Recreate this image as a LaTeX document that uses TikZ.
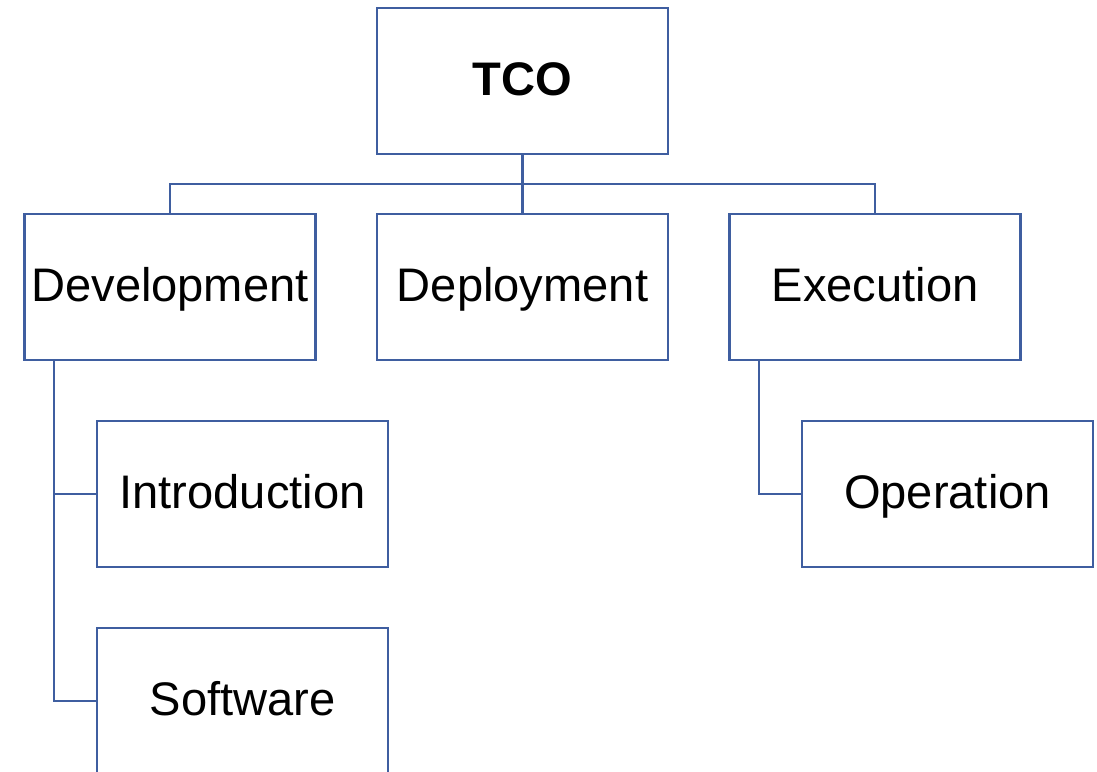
\documentclass[tikz,border=0pt]{standalone}
\usepackage{fontspec}
\setmainfont{Liberation Sans}
\usetikzlibrary{positioning}
\definecolor{boxblue}{RGB}{63,94,160}

\begin{document}
\begin{tikzpicture}[line cap=rect,line join=miter,x=0.02cm,y=-0.02cm,
		box/.style={draw=boxblue,line width=1.35pt,fill=white,minimum width=5.82cm,
			minimum height=2.92cm,inner sep=0pt,text height=19.3pt,text depth=2.3pt,
			font=\fontsize{26.8}{30}\selectfont},
		link/.style={draw=boxblue,line width=1.35pt}]
	\useasboundingbox (0,0) rectangle (1097,771);
	\clip (0,0) rectangle (1097,771);
	%root
	\node[box,font=\fontsize{26.8}{30}\selectfont\bfseries] (tco) at (522.5,81) {TCO};
	%second row
	\node[box] (dev) at (170,287) {Development};
	\node[box] (dep) at (522.5,287) {Deployment};
	\node[box] (exe) at (875,287) {Execution};
	%third row
	\node[box] (intro) at (242.5,494) {Introduction};
	\node[box] (oper) at (947.5,494) {Operation};
	\node[box] (soft) at (242.5,701) {Software};
	%connectors
	\coordinate (bus) at (522.5,184);
	\coordinate (devleg) at (54,360);
	\coordinate (exeleg) at (759,360);
	\draw[link] (tco.south) -- (bus);
	\draw[link] (dev.north) |- (bus) -| (exe.north);
	\draw[link] (bus) -- (dep.north);
	\draw[link] (devleg) |- (soft.west);
	\draw[link] (devleg) |- (intro.west);
	\draw[link] (exeleg) |- (oper.west);
\end{tikzpicture}
\end{document}
